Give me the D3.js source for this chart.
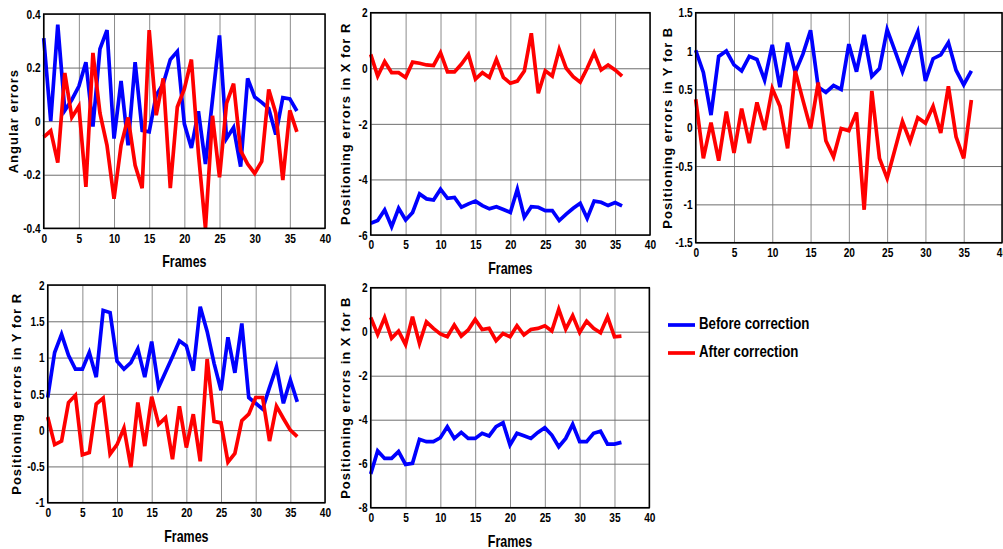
<!DOCTYPE html>
<html>
<head>
<meta charset="utf-8">
<script src="https://cdn.jsdelivr.net/npm/d3@7"></script>
<style>
  body { margin: 0; background: #fff; }
  text { font-family: "Liberation Sans", Arial, sans-serif; font-weight: bold; }
  .ylab { letter-spacing: 1px; }
</style>
</head>
<body>
<div id="vis"></div>
<script>
// frames 0..36
const frames = d3.range(0, 37);

// angular errors
const angBefore = [0.31,0.0,0.36,0.04,0.08,0.13,0.22,-0.02,0.27,0.34,-0.065,0.15,-0.09,0.22,-0.035,-0.04,0.097,0.14,0.23,0.26,-0.01,-0.1,0.037,-0.16,0.08,0.32,-0.065,-0.024,-0.17,0.16,0.09,0.07,0.047,-0.05,0.088,0.083,0.038];
const angAfter = [-0.06,-0.036,-0.155,0.18,0.014,0.056,-0.245,0.255,0.03,-0.09,-0.29,-0.09,0.014,-0.165,-0.25,0.34,0.022,0.16,-0.25,0.053,0.12,0.23,-0.12,-0.4,0.02,-0.21,0.066,0.14,-0.11,-0.16,-0.195,-0.15,0.118,0.03,-0.22,0.04,-0.04];

// positioning errors in X for R
const xrBefore = [-5.58,-5.48,-5.1,-5.7,-5.04,-5.46,-5.19,-4.52,-4.7,-4.74,-4.35,-4.68,-4.65,-5.0,-4.88,-4.78,-4.94,-5.06,-4.98,-5.08,-5.19,-4.35,-5.36,-4.98,-5.0,-5.12,-5.12,-5.48,-5.25,-5.04,-4.86,-5.4,-4.78,-4.82,-4.94,-4.83,-4.95];
const xrAfter = [0.5,-0.28,0.24,-0.16,-0.16,-0.33,0.22,0.18,0.12,0.1,0.56,-0.13,-0.13,0.15,0.5,-0.39,-0.16,-0.33,0.32,-0.33,-0.54,-0.46,-0.1,1.26,-0.9,-0.09,-0.28,0.68,0.0,-0.3,-0.5,0.0,0.56,-0.06,0.12,-0.06,-0.28];

// positioning errors in Y for B
const ybBefore = [1.01,0.72,0.165,0.93,1.0,0.82,0.74,0.93,0.89,0.62,1.08,0.53,1.11,0.72,0.96,1.27,0.53,0.46,0.55,0.5,1.09,0.73,1.21,0.67,0.77,1.28,1.01,0.73,1.01,1.25,0.61,0.9,0.95,1.11,0.75,0.56,0.74];
const ybAfter = [0.37,-0.4,0.065,-0.43,0.21,-0.33,0.25,-0.2,0.33,-0.03,0.51,0.28,-0.27,0.74,0.36,-0.01,0.59,-0.17,-0.38,-0.01,-0.04,0.2,-1.07,0.48,-0.4,-0.66,-0.29,0.08,-0.18,0.13,0.06,0.28,-0.07,0.54,-0.12,-0.4,0.36];

// positioning errors in Y for R
const yrBefore = [0.45,1.07,1.32,1.03,0.84,0.84,1.07,0.73,1.65,1.62,0.95,0.84,0.93,1.12,0.73,1.22,0.59,0.8,1.01,1.23,1.16,0.82,1.7,1.36,0.92,0.55,1.28,0.79,1.47,0.45,0.37,0.29,0.59,0.87,0.37,0.69,0.39];
const yrAfter = [0.18,-0.2,-0.15,0.38,0.48,-0.34,-0.31,0.36,0.44,-0.33,-0.2,0.03,-0.51,0.38,-0.22,0.46,0.08,0.17,-0.4,0.33,-0.24,0.22,-0.43,0.98,0.12,0.1,-0.44,-0.32,0.13,0.22,0.45,0.45,-0.15,0.33,0.16,0.0,-0.09];

// positioning errors in X for B
const xbBefore = [-6.47,-5.42,-5.76,-5.76,-5.45,-6.03,-5.98,-4.89,-5.0,-5.0,-4.82,-4.32,-4.85,-4.58,-4.85,-4.85,-4.62,-4.74,-4.32,-4.14,-5.15,-4.62,-4.73,-4.85,-4.58,-4.36,-4.7,-5.23,-4.85,-4.21,-5.0,-5.0,-4.62,-4.52,-5.11,-5.11,-5.03];
const xbAfter = [0.65,-0.12,0.64,-0.3,0.03,-0.58,0.68,-0.53,0.45,0.15,-0.1,-0.23,0.3,-0.2,0.08,0.56,0.1,0.15,-0.41,-0.08,-0.23,0.27,-0.15,0.1,0.15,0.27,0.03,1.02,0.12,0.73,-0.03,0.48,0.15,-0.05,0.68,-0.23,-0.2];

const xTicks = d3.range(0, 41, 5);
const seriesNames = ["Before correction", "After correction"];
const colors = ["#0000ff", "#ff0000"];

const width = 1003, height = 549;
const squeeze = "scale(0.78,1)"; // the original lettering is condensed

const panels = [
  {label: "Angular errors", before: angBefore, after: angAfter, yDom: [-0.4, 0.4], yTicks: [-0.4,-0.2,0,0.2,0.4],
   box: [43.7, 325, 14, 228.3], ylx: 15, frames: true},
  {label: "Positioning errors in X for R", before: xrBefore, after: xrAfter, yDom: [-6, 2], yTicks: [-6,-4,-2,0,2],
   box: [370.7, 650, 12.7, 235], ylx: 347, frames: true},
  {label: "Positioning errors in Y for B", before: ybBefore, after: ybAfter, yDom: [-1.5, 1.5], yTicks: [-1.5,-1,-0.5,0,0.5,1,1.5],
   box: [695.7, 1002, 12.7, 242.7], ylx: 669, frames: false},
  {label: "Positioning errors in Y for R", before: yrBefore, after: yrAfter, yDom: [-1, 2], yTicks: [-1,-0.5,0,0.5,1,1.5,2],
   box: [47.7, 325, 285, 502.7], ylx: 18, frames: true},
  {label: "Positioning errors in X for B", before: xbBefore, after: xbAfter, yDom: [-8, 2], yTicks: [-8,-6,-4,-2,0,2],
   box: [370.7, 649.3, 287.7, 507.7], ylx: 347, frames: true}
];

const svg = d3.select("#vis").append("svg")
  .attr("width", width).attr("height", height);

panels.forEach(p => {
  const [x0, x1, y0, y1] = p.box;
  const x = d3.scaleLinear().domain([0, 40]).range([x0, x1]);
  const y = d3.scaleLinear().domain(p.yDom).range([y1, y0]);
  const g = svg.append("g");

  // grid
  g.append("g").attr("transform", `translate(0,${y1})`)
    .call(d3.axisBottom(x).tickValues(xTicks).tickSize(-(y1 - y0)).tickFormat(""))
    .call(a => a.select(".domain").remove())
    .selectAll("line").attr("stroke", "#8c8c8c").attr("stroke-width", 1);
  g.append("g").attr("transform", `translate(${x0},0)`)
    .call(d3.axisLeft(y).tickValues(p.yTicks).tickSize(-(x1 - x0)).tickFormat(""))
    .call(a => a.select(".domain").remove())
    .selectAll("line").attr("stroke", "#6e6e6e").attr("stroke-width", 1);

  // tick labels
  g.append("g").attr("transform", `translate(0,${y1})`)
    .call(d3.axisBottom(x).tickValues(xTicks).tickSize(0).tickPadding(5).tickFormat(d3.format("d")))
    .call(a => a.select(".domain").remove())
    .selectAll("text").attr("font-size", 13).attr("fill", "#000").attr("transform", squeeze);
  g.append("g").attr("transform", `translate(${x0},0)`)
    .call(d3.axisLeft(y).tickValues(p.yTicks).tickSize(0).tickPadding(4).tickFormat(d => String(d)))
    .call(a => a.select(".domain").remove())
    .selectAll("text").attr("font-size", 13).attr("fill", "#000").attr("transform", squeeze);
  g.selectAll(".tick text").attr("font-family", null);

  // lines
  const line = d3.line().x((d, i) => x(frames[i])).y(d => y(d));
  [p.before, p.after].forEach((s, k) => {
    g.append("path").datum(s)
      .attr("d", line)
      .attr("fill", "none")
      .attr("stroke", colors[k])
      .attr("stroke-width", 3.7)
      .attr("stroke-linejoin", "miter");
  });

  // frame box
  g.append("rect").attr("x", x0).attr("y", y0)
    .attr("width", x1 - x0).attr("height", y1 - y0)
    .attr("fill", "none").attr("stroke", "#000").attr("stroke-width", 1.5);

  // labels
  g.append("text").attr("class", "ylab")
    .attr("transform", `translate(${p.ylx},${(y0 + y1) / 2}) rotate(-90)`)
    .attr("text-anchor", "middle").attr("dominant-baseline", "middle")
    .attr("font-size", 13).text(p.label);
  if (p.frames) {
    g.append("text")
      .attr("transform", `translate(${(x0 + x1) / 2},${y1 + 39}) ${squeeze}`)
      .attr("text-anchor", "middle")
      .attr("font-size", 16).text("Frames");
  }
});

// legend
const legend = svg.append("g").attr("transform", "translate(668,325)");
seriesNames.forEach((name, i) => {
  const row = legend.append("g").attr("transform", `translate(0,${i * 28})`);
  row.append("line").attr("x1", 0).attr("x2", 27).attr("y1", 0).attr("y2", 0)
    .attr("stroke", colors[i]).attr("stroke-width", 3.7);
  row.append("text").attr("transform", `translate(31,0) ${squeeze}`)
    .attr("dominant-baseline", "middle")
    .attr("font-size", 17).text(name);
});
</script>
</body>
</html>
